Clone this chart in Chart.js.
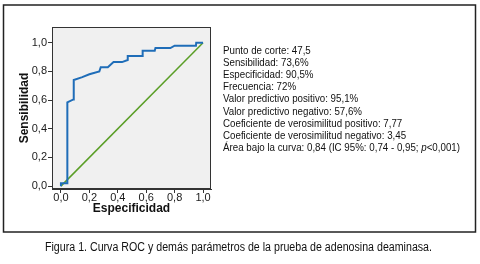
<!DOCTYPE html>
<html>
<head>
<meta charset="utf-8">
<script src="https://cdn.jsdelivr.net/npm/chart.js@4"></script>
<style>
  body { margin: 0; background: #fff; }
  canvas { display: block; }
</style>
</head>
<body>
<canvas id="rocChart" width="480" height="264"></canvas>
<script>
// ROC curve points (x = 1 - especificidad, y = sensibilidad)
const rocX = [0, 0, 0.045, 0.045, 0.088, 0.09, 0.15, 0.2, 0.27, 0.28, 0.33, 0.37, 0.43, 0.47, 0.47, 0.575, 0.575, 0.66, 0.665, 0.77, 0.8, 0.95, 0.952, 1.0];
const rocY = [0, 0.02, 0.02, 0.585, 0.605, 0.74, 0.76, 0.78, 0.8, 0.83, 0.83, 0.865, 0.865, 0.88, 0.907, 0.907, 0.944, 0.944, 0.963, 0.963, 0.98, 0.98, 1.0, 1.0];
const refX = [0, 1];
const refY = [0, 1];
const tickValues = [0, 0.2, 0.4, 0.6, 0.8, 1.0];
const statLines = [
  "Punto de corte: 47,5",
  "Sensibilidad: 73,6%",
  "Especificidad: 90,5%",
  "Frecuencia: 72%",
  "Valor predictivo positivo: 95,1%",
  "Valor predictivo negativo: 57,6%",
  "Coeficiente de verosimilitud positivo: 7,77",
  "Coeficiente de verosimilitud negativo: 3,45",
  ["Área bajo la curva: 0,84 (IC 95%: 0,74 - 0,95; ", "p", "<0,001)"]
];
const caption = "Figura 1. Curva ROC y demás parámetros de la prueba de adenosina deaminasa.";

const FONT = "'Liberation Sans', Arial, sans-serif";

const toPts = (xs, ys) => xs.map((x, i) => ({ x: x, y: ys[i] }));
const fmt = (v) => v.toFixed(1).replace(".", ",");

// line pieces: the "p" of the last line is italic
const pieces = (t) => (Array.isArray(t) ? t : [t]).map((s, j, arr) => ({
  s: s,
  font: (arr.length > 1 && j === 1 ? "italic " : "") + "11px " + FONT
}));

// draws the gray plot background, boxes and the side text
const decor = {
  id: "decor",
  beforeDatasetsDraw(chart) {
    const { ctx, chartArea: a } = chart;
    ctx.save();
    ctx.fillStyle = "#f0f0f0";
    ctx.fillRect(a.left, a.top, a.right - a.left, a.bottom - a.top);
    ctx.restore();
  },
  afterDraw(chart) {
    const { ctx, chartArea: a } = chart;
    ctx.save();
    ctx.strokeStyle = "#333";
    ctx.lineWidth = 1;
    ctx.strokeRect(a.left + 0.5, a.top + 0.5, a.right - a.left - 1, a.bottom - a.top - 1);

    // outer frame
    ctx.strokeStyle = "#222";
    ctx.lineWidth = 1.5;
    ctx.strokeRect(3.5, 5, 472, 227);

    // parameter text, squeezed like the narrow font of the original
    ctx.fillStyle = "#111";
    ctx.textBaseline = "middle";
    const widthOf = (t) => pieces(t).reduce((w, p) => { ctx.font = p.font; return w + ctx.measureText(p.s).width; }, 0);
    const sx = Math.min(1, 237 / Math.max(...statLines.map(widthOf)));
    statLines.forEach((t, i) => {
      ctx.save();
      ctx.translate(223, 51 + i * 12.1);
      ctx.scale(sx, 1);
      let x = 0;
      pieces(t).forEach((p) => {
        ctx.font = p.font;
        ctx.fillText(p.s, x, 0);
        x += ctx.measureText(p.s).width;
      });
      ctx.restore();
    });

    // caption
    ctx.font = "12px " + FONT;
    const cw = ctx.measureText(caption).width;
    ctx.save();
    ctx.translate(45, 248);
    ctx.scale(Math.min(1, 387 / cw), 1);
    ctx.fillText(caption, 0, 0);
    ctx.restore();
    ctx.restore();
  }
};

const axisCommon = {
  type: "linear",
  border: { display: true, color: "#333" },
  grid: { drawOnChartArea: false, drawTicks: true, tickLength: 4, color: "#333" },
  afterBuildTicks: (scale) => { scale.ticks = tickValues.map((v) => ({ value: v })); },
  ticks: {
    color: "#1a1a1a",
    font: { family: FONT, size: 11 },
    callback: (v) => fmt(v)
  }
};

new Chart(document.getElementById("rocChart").getContext("2d"), {
  type: "scatter",
  data: {
    datasets: [
      {
        label: "ROC",
        data: toPts(rocX, rocY),
        showLine: true,
        borderColor: "#1f6db8",
        borderWidth: 2,
        pointRadius: 0,
        tension: 0
      },
      {
        label: "Referencia",
        data: toPts(refX, refY),
        showLine: true,
        borderColor: "#5a9e26",
        borderWidth: 1.5,
        pointRadius: 0
      }
    ]
  },
  options: {
    responsive: false,
    devicePixelRatio: 1,
    animation: false,
    layout: { padding: { left: 10, top: 27, right: 269, bottom: 45 } },
    plugins: { legend: { display: false }, tooltip: { enabled: false } },
    scales: {
      x: Object.assign({}, axisCommon, {
        min: -0.063,
        max: 1.056,
        ticks: Object.assign({}, axisCommon.ticks, { padding: -2 }),
        afterFit: (s) => { s.height = 30; },
        title: {
          display: true,
          text: "Especificidad",
          color: "#111",
          font: { family: FONT, size: 12, weight: "bold" },
          padding: { top: 0, bottom: 3 }
        }
      }),
      y: Object.assign({}, axisCommon, {
        min: -0.02,
        max: 1.11,
        ticks: Object.assign({}, axisCommon.ticks, { padding: 1 }),
        afterFit: (s) => { s.width = 42; },
        title: {
          display: true,
          text: "Sensibilidad",
          color: "#111",
          font: { family: FONT, size: 12, weight: "bold" },
          padding: { top: 7, bottom: 0 }
        }
      })
    }
  },
  plugins: [decor]
});
</script>
</body>
</html>
